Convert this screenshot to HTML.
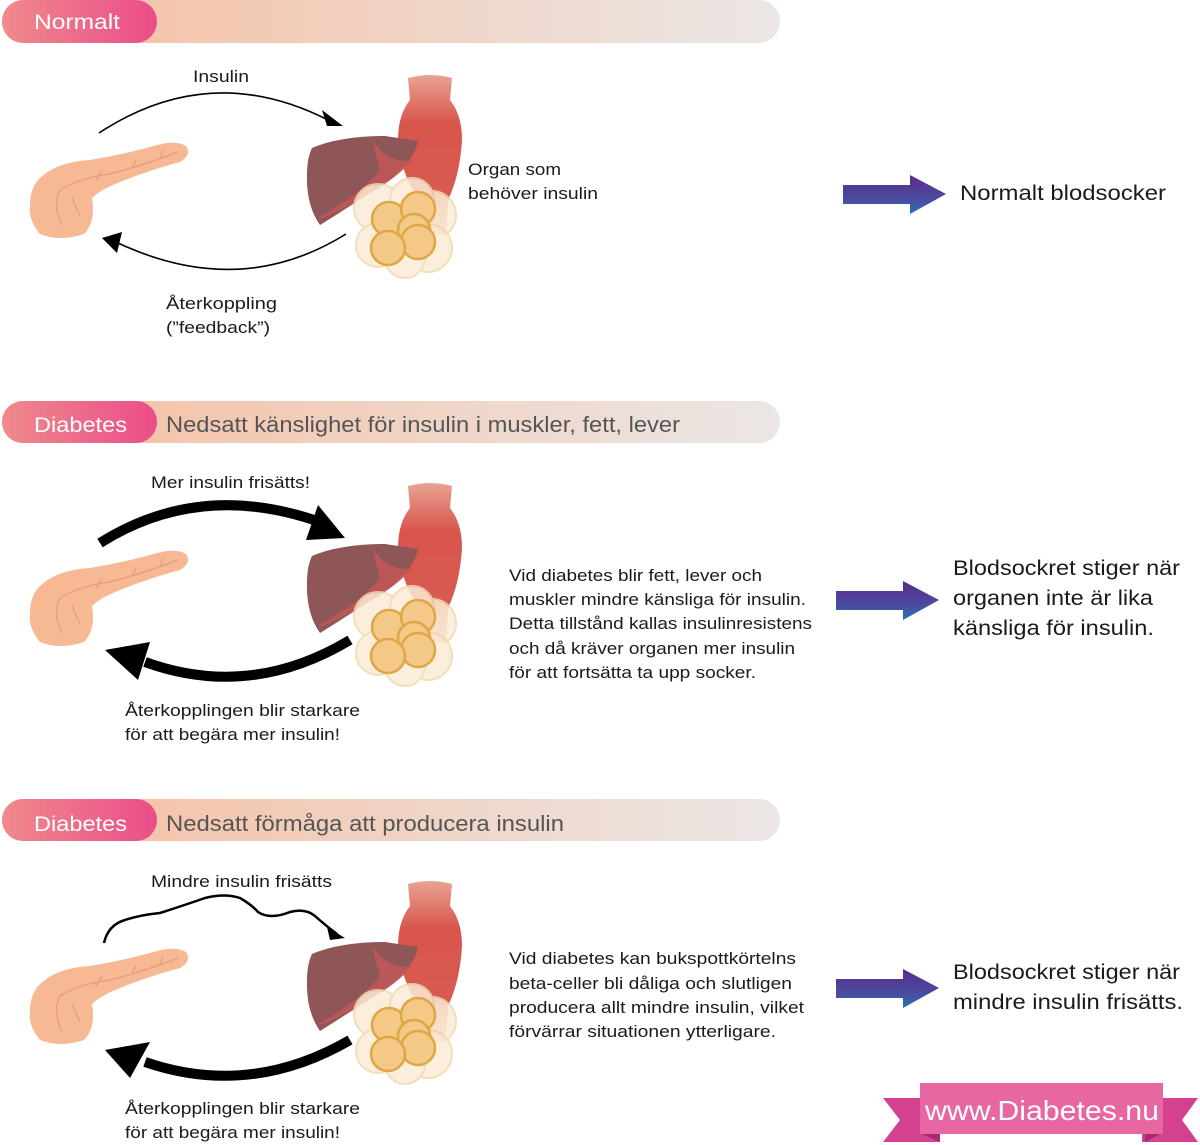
<!DOCTYPE html>
<html><head><meta charset="utf-8"><style>
html,body{margin:0;padding:0;background:#fff}
svg{display:block}
text{font-family:"Liberation Sans",sans-serif;fill:#1a1a1a}
</style></head><body>
<svg width="1200" height="1145" viewBox="0 0 1200 1145" xmlns="http://www.w3.org/2000/svg">
<defs>
<linearGradient id="bar" x1="0" x2="1"><stop offset="0" stop-color="#f6bd9f"/><stop offset="1" stop-color="#ebe7e6"/></linearGradient>
<linearGradient id="pill" x1="0" x2="1"><stop offset="0" stop-color="#f08a8c"/><stop offset="1" stop-color="#ea4d88"/></linearGradient>
<linearGradient id="arr" x1="0" y1="0" x2="0" y2="1"><stop offset="0" stop-color="#5b2c8a"/><stop offset="0.6" stop-color="#4a4a9e"/><stop offset="1" stop-color="#2a72b8"/></linearGradient>
<linearGradient id="mus" x1="0" y1="0" x2="0" y2="1"><stop offset="0" stop-color="#e8a393"/><stop offset="0.3" stop-color="#d8554c"/><stop offset="0.75" stop-color="#d85a50"/><stop offset="1" stop-color="#f2c4b8"/></linearGradient>
<g id="org">
<path d="M408,78 Q430,72 452,78 L450,100 Q462,115 462,140 Q460,175 448,200 L446,235 L420,235 L418,200 Q400,170 398,140 Q398,115 410,100 Z" fill="url(#mus)"/>
<path d="M312,148 Q340,136 385,136 L418,141 Q414,160 392,178 Q360,200 320,225 Q306,205 307,175 Q307,158 312,148 Z" fill="#8e5656"/>
<path d="M372,140 Q390,165 412,160 Q395,182 340,210 Q322,220 318,218 Q360,195 380,170 Z" fill="#c05858" opacity="0.9"/>
<g fill="#fbecd6" stroke="#f0d9b0" stroke-width="2" opacity="0.85">
<circle cx="378" cy="208" r="24"/><circle cx="432" cy="215" r="24"/><circle cx="378" cy="245" r="22"/><circle cx="428" cy="248" r="24"/><circle cx="405" cy="258" r="20"/><circle cx="412" cy="200" r="22"/>
</g>
<g fill="#f4c886" stroke="#dfa645" stroke-width="2.5">
<circle cx="389" cy="219" r="17"/><circle cx="418" cy="209" r="17"/><circle cx="414" cy="230" r="16"/><circle cx="418" cy="242" r="17"/><circle cx="388" cy="248" r="17"/>
</g>
</g>
<g id="pan">
<path d="M38,180 Q55,162 90,160 Q120,155 150,147 Q175,139 186,146 Q192,155 180,162 Q150,170 120,182 Q100,190 92,198 Q96,222 84,234 Q60,242 40,234 Q28,220 30,205 Q30,190 38,180 Z" fill="#f6b994"/>
<path d="M62,225 Q52,205 60,190 Q80,178 110,174 M110,174 Q145,165 178,152 M72,198 L80,216 M96,180 L102,170 M132,168 L136,160 M160,158 L163,150" fill="none" stroke="#e8a07c" stroke-width="1.5"/>
</g>
<g id="parr"><path d="M843,185 H910 V175 L946,194 L910,214 V204 H843 Z" fill="url(#arr)"/></g>
</defs>

<!-- headers -->
<rect x="2" y="0" width="778" height="43" rx="21.5" fill="url(#bar)"/>
<rect x="2" y="0" width="155" height="43" rx="21.5" fill="url(#pill)"/>
<text x="34" y="29" font-size="21" style="fill:#fff" textLength="86" lengthAdjust="spacingAndGlyphs">Normalt</text>

<rect x="2" y="401" width="778" height="42" rx="21" fill="url(#bar)"/>
<rect x="2" y="401" width="155" height="42" rx="21" fill="url(#pill)"/>
<text x="34" y="432" font-size="21" style="fill:#fff" textLength="93" lengthAdjust="spacingAndGlyphs">Diabetes</text>
<text x="166" y="432" font-size="22" style="fill:#555" textLength="514" lengthAdjust="spacingAndGlyphs">Nedsatt känslighet för insulin i muskler, fett, lever</text>

<rect x="2" y="799" width="778" height="42" rx="21" fill="url(#bar)"/>
<rect x="2" y="799" width="155" height="42" rx="21" fill="url(#pill)"/>
<text x="34" y="831" font-size="21" style="fill:#fff" textLength="93" lengthAdjust="spacingAndGlyphs">Diabetes</text>
<text x="166" y="831" font-size="22" style="fill:#555" textLength="398" lengthAdjust="spacingAndGlyphs">Nedsatt förmåga att producera insulin</text>

<!-- section 1 -->
<use href="#pan"/>
<use href="#org"/>
<path d="M99,133 Q210,60 328,120" fill="none" stroke="#000" stroke-width="1.6"/>
<path d="M343,126 L322,110 L327,126 Z" fill="#000"/>
<path d="M346,234 Q240,300 118,243" fill="none" stroke="#000" stroke-width="1.6"/>
<path d="M102,238 L122,232 L117,253 Z" fill="#000"/>
<text x="193" y="82" font-size="17" textLength="56" lengthAdjust="spacingAndGlyphs">Insulin</text>
<text x="468" y="175" font-size="17" textLength="93" lengthAdjust="spacingAndGlyphs">Organ som</text>
<text x="468" y="199" font-size="17" textLength="130" lengthAdjust="spacingAndGlyphs">behöver insulin</text>
<text x="166" y="309" font-size="17" textLength="111" lengthAdjust="spacingAndGlyphs">Återkoppling</text>
<text x="166" y="333" font-size="17" textLength="104" lengthAdjust="spacingAndGlyphs">(”feedback”)</text>
<use href="#parr"/>
<text x="960" y="200" font-size="21" textLength="206" lengthAdjust="spacingAndGlyphs">Normalt blodsocker</text>

<!-- section 2 -->
<use href="#pan" transform="translate(0,408)"/>
<use href="#org" transform="translate(0,408)"/>
<path d="M100,543 Q200,480 320,522" fill="none" stroke="#000" stroke-width="10"/>
<path d="M345,538 L318,505 L306,540 Z" fill="#000"/>
<path d="M350,640 Q250,700 145,662" fill="none" stroke="#000" stroke-width="10"/>
<path d="M105,650 L150,642 L138,680 Z" fill="#000"/>
<text x="151" y="488" font-size="17" textLength="159" lengthAdjust="spacingAndGlyphs">Mer insulin frisätts!</text>
<text x="125" y="716" font-size="17" textLength="235" lengthAdjust="spacingAndGlyphs">Återkopplingen blir starkare</text>
<text x="125" y="740" font-size="17" textLength="215" lengthAdjust="spacingAndGlyphs">för att begära mer insulin!</text>
<g font-size="17">
<text x="509" y="581" textLength="253" lengthAdjust="spacingAndGlyphs">Vid diabetes blir fett, lever och</text>
<text x="509" y="605" textLength="297" lengthAdjust="spacingAndGlyphs">muskler mindre känsliga för insulin.</text>
<text x="509" y="629" textLength="303" lengthAdjust="spacingAndGlyphs">Detta tillstånd kallas insulinresistens</text>
<text x="509" y="654" textLength="286" lengthAdjust="spacingAndGlyphs">och då kräver organen mer insulin</text>
<text x="509" y="678" textLength="247" lengthAdjust="spacingAndGlyphs">för att fortsätta ta upp socker.</text>
</g>
<use href="#parr" transform="translate(-7,406)"/>
<g font-size="21">
<text x="953" y="575" textLength="227" lengthAdjust="spacingAndGlyphs">Blodsockret stiger när</text>
<text x="953" y="605" textLength="200" lengthAdjust="spacingAndGlyphs">organen inte är lika</text>
<text x="953" y="635" textLength="201" lengthAdjust="spacingAndGlyphs">känsliga för insulin.</text>
</g>

<!-- section 3 -->
<use href="#pan" transform="translate(0,806)"/>
<use href="#org" transform="translate(0,806)"/>
<path d="M104,943 Q108,925 125,920 Q140,915 160,913 Q185,905 205,898 Q225,893 240,898 Q252,905 258,912 Q270,920 290,912 Q305,908 315,916 Q325,925 337,934" fill="none" stroke="#000" stroke-width="2.5"/>
<path d="M345,938 L327,927 L330,940 Z" fill="#000"/>
<path d="M350,1040 Q250,1098 145,1062" fill="none" stroke="#000" stroke-width="10"/>
<path d="M105,1050 L150,1042 L130,1078 Z" fill="#000"/>
<text x="151" y="887" font-size="17" textLength="181" lengthAdjust="spacingAndGlyphs">Mindre insulin frisätts</text>
<text x="125" y="1114" font-size="17" textLength="235" lengthAdjust="spacingAndGlyphs">Återkopplingen blir starkare</text>
<text x="125" y="1138" font-size="17" textLength="215" lengthAdjust="spacingAndGlyphs">för att begära mer insulin!</text>
<g font-size="17">
<text x="509" y="964" textLength="287" lengthAdjust="spacingAndGlyphs">Vid diabetes kan bukspottkörtelns</text>
<text x="509" y="989" textLength="283" lengthAdjust="spacingAndGlyphs">beta-celler bli dåliga och slutligen</text>
<text x="509" y="1013" textLength="295" lengthAdjust="spacingAndGlyphs">producera allt mindre insulin, vilket</text>
<text x="509" y="1037" textLength="267" lengthAdjust="spacingAndGlyphs">förvärrar situationen ytterligare.</text>
</g>
<use href="#parr" transform="translate(-7,794)"/>
<g font-size="21">
<text x="953" y="979" textLength="227" lengthAdjust="spacingAndGlyphs">Blodsockret stiger när</text>
<text x="953" y="1009" textLength="230" lengthAdjust="spacingAndGlyphs">mindre insulin frisätts.</text>
</g>

<!-- ribbon -->
<path d="M883,1098 H940 V1142 H883 L900,1120 Z" fill="#d2428f"/>
<path d="M1142,1098 H1198 L1182,1120 L1198,1142 H1142 Z" fill="#d2428f"/>
<path d="M920,1133 L940,1142 V1133 Z" fill="#a62a72"/>
<path d="M1162,1133 L1145,1142 V1133 Z" fill="#a62a72"/>
<rect x="920" y="1083" width="243" height="51" fill="#e866a2"/>
<text x="925" y="1120" font-size="28" style="fill:#fff" textLength="234" lengthAdjust="spacingAndGlyphs">www.Diabetes.nu</text>
</svg>
</body></html>
